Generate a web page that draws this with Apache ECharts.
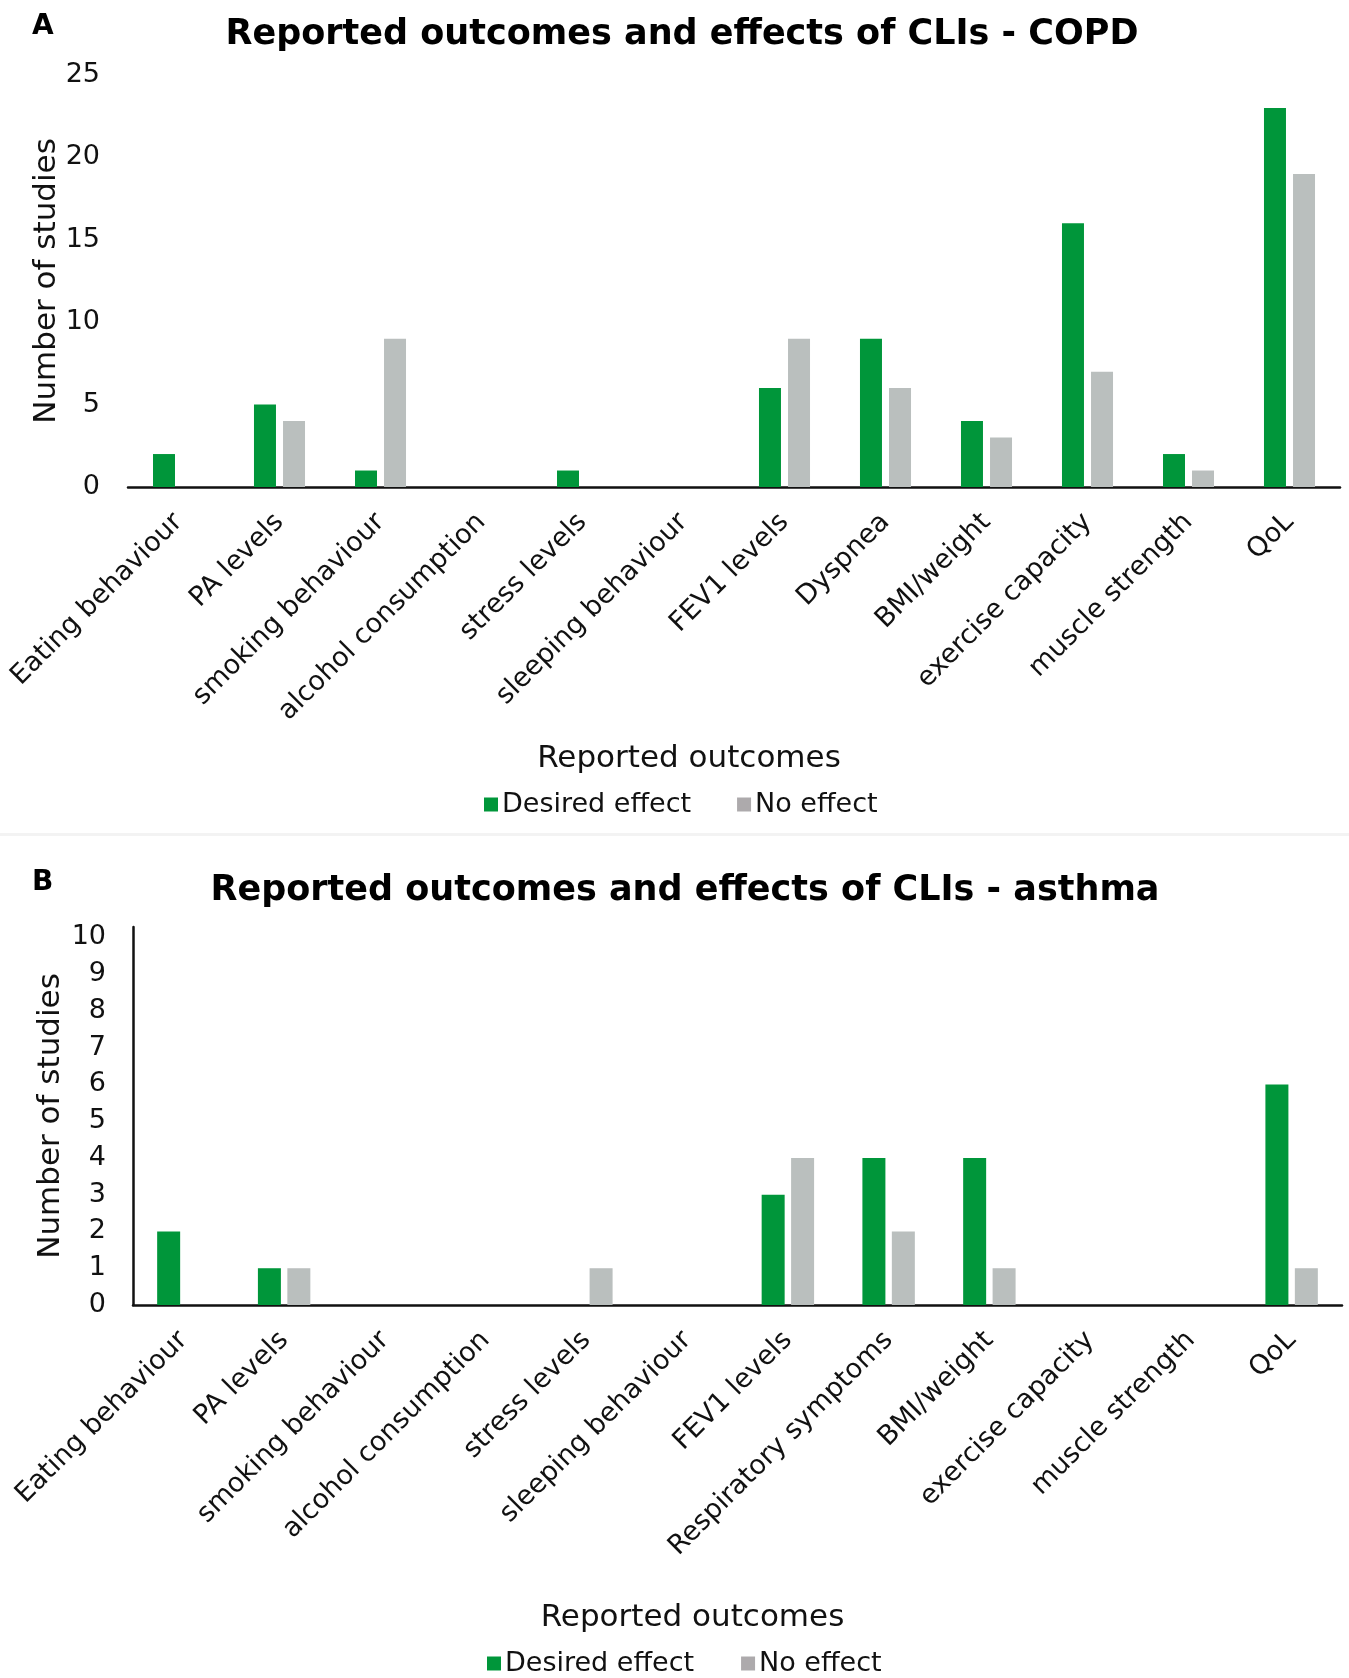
<!DOCTYPE html>
<html>
<head>
<meta charset="utf-8">
<script src="https://cdn.jsdelivr.net/npm/echarts@6/dist/echarts.min.js"></script>
<style>
html,body{margin:0;padding:0;background:#fff;}
#chart{width:1349px;height:1678px;}
</style>
</head>
<body>
<div id="chart"></div>
<script>
// ---------- data ----------
const copdCategories = ['Eating behaviour','PA levels','smoking behaviour','alcohol consumption','stress levels','sleeping behaviour','FEV1 levels','Dyspnea','BMI/weight','exercise capacity','muscle strength','QoL'];
const copdDesired  = [2, 5, 1, 0, 1, 0, 6, 9, 4, 16, 2, 23];
const copdNoEffect = [0, 4, 9, 0, 0, 0, 9, 6, 3, 7, 1, 19];

const asthmaCategories = ['Eating behaviour','PA levels','smoking behaviour','alcohol consumption','stress levels','sleeping behaviour','FEV1 levels','Respiratory symptoms','BMI/weight','exercise capacity','muscle strength','QoL'];
const asthmaDesired  = [2, 1, 0, 0, 0, 0, 3, 4, 4, 0, 0, 6];
const asthmaNoEffect = [0, 1, 0, 0, 1, 0, 4, 2, 1, 0, 0, 1];

const seriesNames = ['Desired effect', 'No effect'];
const titleA = 'Reported outcomes and effects of CLIs - COPD';
const titleB = 'Reported outcomes and effects of CLIs - asthma';
const yName = 'Number of studies';
const xName = 'Reported outcomes';

// ---------- style ----------
const FONT = '"DejaVu Sans", Verdana, sans-serif';
const GREEN = '#00963a';
const GRAY = '#babfbe';
const TXT = '#111';

const chart = echarts.init(document.getElementById('chart'), null, {renderer: 'canvas'});

function xAxisCfg(gridIndex, cats, gap, shift) {
  return {
    type: 'category', gridIndex: gridIndex, data: cats,
    axisLine: {show: true, lineStyle: {color: '#111', width: 2.5}},
    axisTick: {show: false},
    axisLabel: {rotate: 45, interval: 0, margin: 31, fontSize: 27, fontFamily: FONT, color: TXT},
    name: xName, nameLocation: 'middle', nameGap: gap,
    nameTextStyle: {fontSize: 31, fontFamily: FONT, color: TXT, padding: [0, shift, 0, 0]}
  };
}

chart.setOption({
  backgroundColor: '#ffffff',
  animation: false,
  title: [
    {text: 'A', left: 32, top: 13, padding: 0, textStyle: {fontSize: 28, fontWeight: 'bold', fontFamily: FONT, color: '#000', lineHeight: 28}},
    {text: titleA, left: 682, textAlign: 'center', top: 17, padding: 0, textStyle: {fontSize: 35, fontWeight: 'bold', fontFamily: FONT, color: '#000', lineHeight: 35}},
    {text: 'B', left: 32, top: 869, padding: 0, textStyle: {fontSize: 28, fontWeight: 'bold', fontFamily: FONT, color: '#000', lineHeight: 28}},
    {text: titleB, left: 685, textAlign: 'center', top: 873, padding: 0, textStyle: {fontSize: 35, fontWeight: 'bold', fontFamily: FONT, color: '#000', lineHeight: 35}}
  ],
  legend: [
    {left: 484, top: 791, padding: 0, itemWidth: 14, itemHeight: 14, itemGap: 46, icon: 'rect',
     textStyle: {fontSize: 27, fontFamily: FONT, color: TXT, padding: [0, 0, 0, -1]},
     data: [{name: seriesNames[0], itemStyle: {color: GREEN}}, {name: seriesNames[1], itemStyle: {color: '#adaaac'}}]},
    {left: 487, top: 1650, padding: 0, itemWidth: 14, itemHeight: 14, itemGap: 47, icon: 'rect',
     textStyle: {fontSize: 27, fontFamily: FONT, color: TXT, padding: [0, 0, 0, -1]},
     data: [{name: seriesNames[0], itemStyle: {color: GREEN}}, {name: seriesNames[1], itemStyle: {color: '#adaaac'}}]}
  ],
  graphic: [
    {type: 'rect', shape: {x: 0, y: 833, width: 1349, height: 3}, style: {fill: '#f3f3f3'}, silent: true}
  ],
  grid: [
    {left: 128, top: 75, width: 1212, height: 412},
    {left: 133, top: 927, width: 1209, height: 378}
  ],
  xAxis: [
    xAxisCfg(0, copdCategories, 256, 90),
    xAxisCfg(1, asthmaCategories, 297, 90)
  ],
  yAxis: [
    {type: 'value', gridIndex: 0, min: 0, max: 25, interval: 5,
     axisLine: {show: false}, axisTick: {show: false}, splitLine: {show: false},
     axisLabel: {fontSize: 27, fontFamily: FONT, color: TXT, margin: 28},
     name: yName, nameLocation: 'middle', nameGap: 66, nameMoveOverlap: false,
     nameTextStyle: {fontSize: 31, fontFamily: FONT, color: TXT}},
    {type: 'value', gridIndex: 1, min: 0, max: 10.28, interval: 1,
     axisLine: {show: true, lineStyle: {color: '#111', width: 2.5}}, axisTick: {show: false}, splitLine: {show: false},
     axisLabel: {fontSize: 27, fontFamily: FONT, color: TXT, margin: 27, showMaxLabel: false,
       formatter: function (v) { return Number.isInteger(v) ? String(v) : ''; }},
     name: yName, nameLocation: 'middle', nameGap: 67, nameMoveOverlap: false,
     nameTextStyle: {fontSize: 31, fontFamily: FONT, color: TXT}}
  ],
  series: [
    {name: seriesNames[0], type: 'bar', xAxisIndex: 0, yAxisIndex: 0, data: copdDesired, barWidth: 22, barGap: '32%', itemStyle: {color: GREEN}},
    {name: seriesNames[1], type: 'bar', xAxisIndex: 0, yAxisIndex: 0, data: copdNoEffect, barWidth: 22, barGap: '32%', itemStyle: {color: GRAY}},
    {name: seriesNames[0], type: 'bar', xAxisIndex: 1, yAxisIndex: 1, data: asthmaDesired, barWidth: 23, barGap: '28%', itemStyle: {color: GREEN}},
    {name: seriesNames[1], type: 'bar', xAxisIndex: 1, yAxisIndex: 1, data: asthmaNoEffect, barWidth: 23, barGap: '28%', itemStyle: {color: GRAY}}
  ]
});
</script>
</body>
</html>
